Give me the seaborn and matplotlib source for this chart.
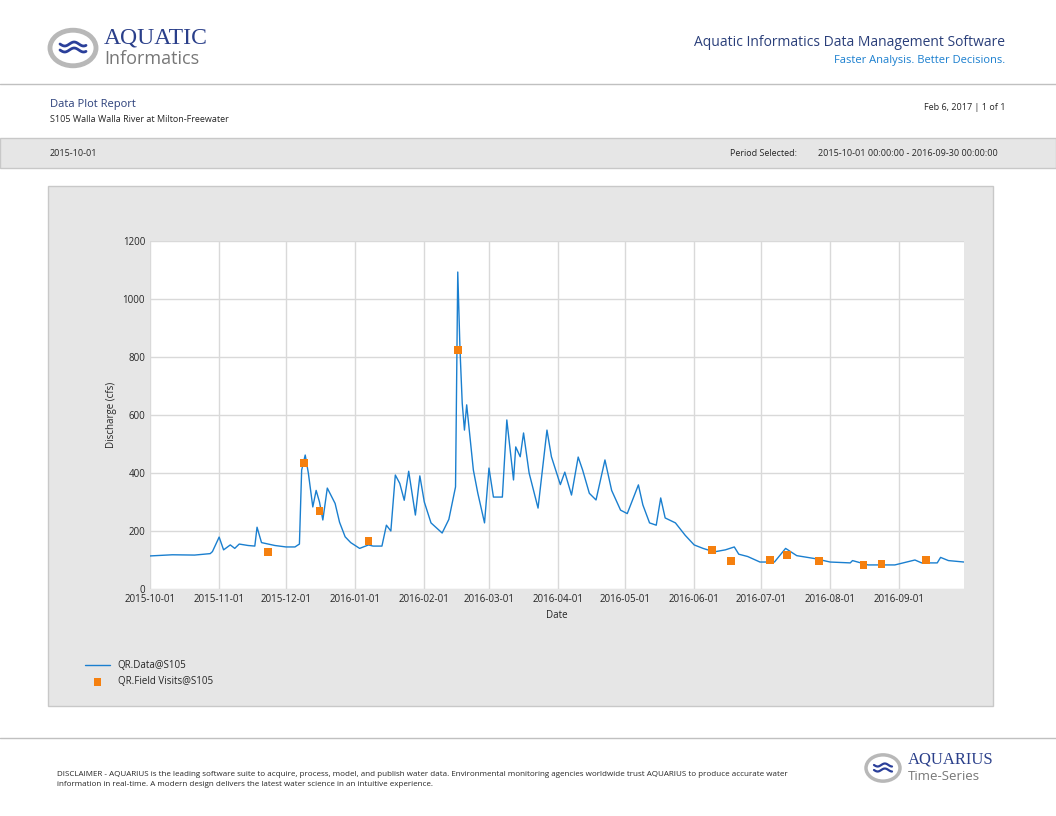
import numpy as np
import pandas as pd
import seaborn as sns
import matplotlib.pyplot as plt
import matplotlib.dates as mdates
from matplotlib.patches import Rectangle, Circle

# discharge readings (days since 2015-10-01, cfs)
day_offsets = [0, 10, 20, 27, 28, 31, 33, 36, 38, 40, 44, 47, 48, 50, 53, 56, 61, 65, 67, 68, 69.6, 71,
               73, 74.5, 76, 77.5, 79.5, 83, 85, 87.5, 90, 94, 98, 100, 104, 106, 108, 110, 112, 114, 116,
               119, 121, 123, 126, 131, 134, 137, 138, 139, 140, 141, 142, 143, 145, 147, 150, 152, 154, 158,
               160, 163, 164, 166, 167.5, 170, 174, 178, 180, 184, 186, 189, 192, 194, 197, 200, 204, 207,
               211, 214, 219, 221, 224, 227, 229, 231, 235.6, 240, 244, 248, 253, 258, 262, 264, 268, 273.5,
               280, 285, 290, 298, 305, 314, 315, 322, 334, 343, 346, 353, 354.5, 358, 365]
discharge = [114, 118, 117, 122, 129, 179, 135, 152, 140, 155, 150, 148, 213, 160, 155, 150, 145, 145,
             155, 410, 462, 400, 283, 340, 300, 238, 348, 295, 230, 180, 160, 140, 152, 148, 148, 220,
             200, 393, 364, 306, 406, 255, 390, 300, 228, 193, 240, 352, 1093, 826, 641, 548, 635, 560,
             410, 330, 228, 417, 317, 317, 583, 376, 490, 456, 538, 400, 279, 548, 456, 360, 403, 324,
             455, 410, 330, 307, 445, 340, 272, 260, 359, 290, 228, 220, 314, 245, 228, 185, 152, 140,
             128, 135, 145, 120, 112, 93, 93, 140, 115, 105, 93, 90, 98, 83, 83, 100, 90, 90, 109, 98, 93]

# field visit measurements
visit_days = [53, 69, 76, 98, 138, 252, 260.5, 278, 285.6, 300, 320, 328, 348]
visit_q = [128, 435, 269, 166, 824, 134, 97, 100, 117, 97, 83, 86, 100]

start = pd.Timestamp("2015-10-01")
series = pd.DataFrame({"Date": start + pd.to_timedelta(day_offsets, unit="D"), "Q": discharge})
visits = pd.DataFrame({"Date": start + pd.to_timedelta(visit_days, unit="D"), "Q": visit_q})

sns.set_style("white")
plt.rcParams["font.family"] = ["Open Sans", "DejaVu Sans"]

W, H = 1056, 816
fig = plt.figure(figsize=(10.56, 8.16), dpi=100)

def fx(x): return x / W
def fy(y): return 1 - y / H

# header
fig.add_artist(plt.Line2D([0, 1], [fy(84), fy(84)], color="#c0c0c0", lw=1))
fig.text(fx(1005), fy(42), "Aquatic Informatics Data Management Software", ha="right", va="center",
         fontsize=10, color="#2a3f7a")
fig.text(fx(1005), fy(60), "Faster Analysis. Better Decisions.", ha="right", va="center",
         fontsize=8, color="#1a7fcf")
fig.add_artist(Circle((fx(73), fy(48)), 23 / W, transform=fig.transFigure, facecolor="white",
                      edgecolor="#b8b8b8", lw=3.5))
for dy in (-4, 2):
    xs = np.linspace(60, 86, 30)
    fig.add_artist(plt.Line2D(fx(xs), fy(48 + dy + 2 * np.sin((xs - 60) / 3)), color="#2a3f9a", lw=2))
fig.text(fx(104), fy(38), "AQUATIC", fontsize=17, color="#2a3f8a", va="center", family="Liberation Serif")
fig.text(fx(104), fy(59), "Informatics", fontsize=13, color="#777777", va="center")

fig.text(fx(50), fy(105), "Data Plot Report", fontsize=8, color="#2a3f7a", va="center")
fig.text(fx(50), fy(120), "S105 Walla Walla River at Milton-Freewater", fontsize=6.5, va="center")
fig.text(fx(1006), fy(107), "Feb 6, 2017 | 1 of 1", fontsize=6.5, ha="right", va="center")

fig.add_artist(Rectangle((0, fy(168)), 1, 30 / H, transform=fig.transFigure,
                         facecolor="#e6e6e6", edgecolor="#c8c8c8", lw=1))
fig.text(fx(50), fy(153), "2015-10-01", fontsize=6.5, va="center")
fig.text(fx(730), fy(153), "Period Selected:", fontsize=6.5, va="center")
fig.text(fx(818), fy(153), "2015-10-01 00:00:00 - 2016-09-30 00:00:00", fontsize=6.5, va="center")

# chart panel (behind the axes)
fig.add_artist(Rectangle((fx(48), fy(706)), 945 / W, 520 / H, transform=fig.transFigure,
                         facecolor="#e6e6e6", edgecolor="#c8c8c8", lw=1, zorder=-5))

ax = fig.add_axes([fx(150), fy(589), 814 / W, 348 / H])
ax.set_zorder(5)
sns.lineplot(data=series, x="Date", y="Q", ax=ax, color="#1a7fcf", lw=1.0, label="QR.Data@S105")
sns.scatterplot(data=visits, x="Date", y="Q", ax=ax, color="#f5800f", marker="s", s=30,
                edgecolor="none", label="QR.Field Visits@S105", zorder=3)
ax.set_xlim(start, pd.Timestamp("2016-09-30"))
ax.set_ylim(0, 1200)
ax.set_yticks(range(0, 1201, 200))
ax.xaxis.set_major_locator(mdates.MonthLocator())
ax.xaxis.set_major_formatter(mdates.DateFormatter("%Y-%m-%d"))
ax.grid(True, color="#d9d9d9", lw=1)
ax.tick_params(labelsize=7, length=0)
for s in ax.spines.values():
    s.set_visible(False)
ax.set_xlabel("Date", fontsize=7)
ax.set_ylabel("Discharge (cfs)", fontsize=7)
ax.legend(loc="upper left", bbox_to_anchor=(-0.09, -0.18), frameon=False, fontsize=7,
          handlelength=2.5)

# footer
fig.add_artist(plt.Line2D([0, 1], [fy(738), fy(738)], color="#c0c0c0", lw=1))
fig.text(fx(57), fy(779),
         "DISCLAIMER - AQUARIUS is the leading software suite to acquire, process, model, and publish water data. "
         "Environmental monitoring agencies worldwide trust AQUARIUS to produce accurate water\n"
         "information in real-time. A modern design delivers the latest water science in an intuitive experience.",
         fontsize=5.8, va="center", linespacing=1.6)
fig.add_artist(Circle((fx(883), fy(768)), 17 / W, transform=fig.transFigure, facecolor="white",
                      edgecolor="#b8b8b8", lw=2.5))
for dy in (-3, 2):
    xs = np.linspace(874, 892, 24)
    fig.add_artist(plt.Line2D(fx(xs), fy(768 + dy + 1.5 * np.sin((xs - 874) / 2.3)), color="#2a3f9a", lw=1.6))
fig.text(fx(908), fy(760), "AQUARIUS", fontsize=12, color="#2a3f8a", va="center", family="Liberation Serif")
fig.text(fx(908), fy(777), "Time-Series", fontsize=9.5, color="#777777", va="center")

fig.savefig("out.png", dpi=100)
